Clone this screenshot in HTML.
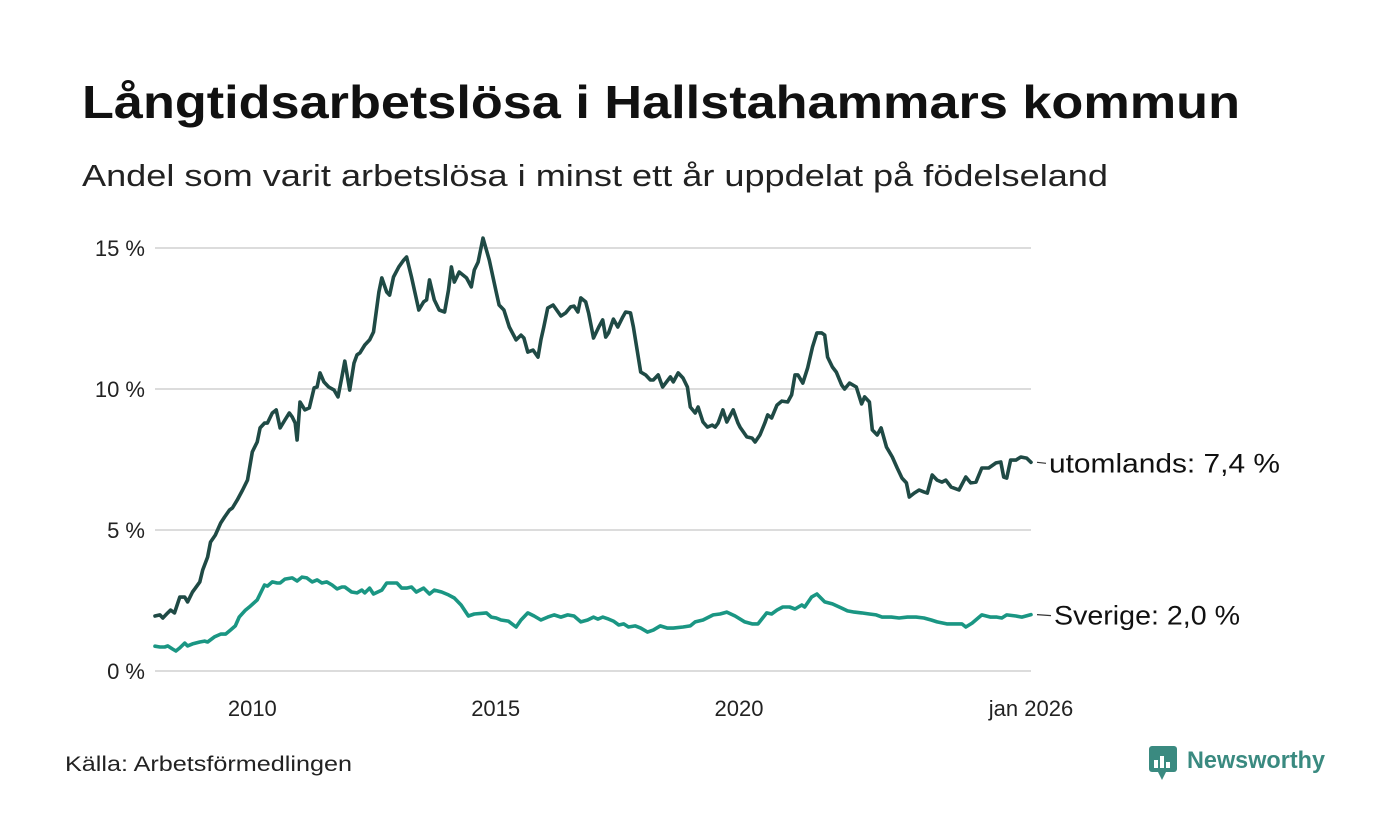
<!DOCTYPE html>
<html><head><meta charset="utf-8"><style>
html,body{margin:0;padding:0;background:#fff}
svg{display:block;font-family:"Liberation Sans","DejaVu Sans",sans-serif}
</style></head><body>
<svg id="chart" width="1400" height="840" viewBox="0 0 1400 840">
<rect width="1400" height="840" fill="#fff"/>
<text x="82" y="118" font-size="46" font-weight="bold" fill="#111" textLength="1158" lengthAdjust="spacingAndGlyphs">Långtidsarbetslösa i Hallstahammars kommun</text>
<text x="82" y="186" font-size="31" fill="#222" textLength="1026" lengthAdjust="spacingAndGlyphs">Andel som varit arbetslösa i minst ett år uppdelat på födelseland</text>
<g id="grid"></g>
<g id="yticks"></g>
<g id="xticks"></g>
<g id="lines"></g>
<text x="65" y="771" font-size="21" fill="#222" textLength="287" lengthAdjust="spacingAndGlyphs">Källa: Arbetsförmedlingen</text>
<g>
<rect x="1149" y="746" width="28" height="26" rx="3" fill="#3a8a80"/>
<polygon points="1158,772 1166,772 1162,780" fill="#3a8a80"/>
<rect x="1154" y="760" width="4" height="8" fill="#fff"/><rect x="1160" y="756" width="4" height="12" fill="#fff"/><rect x="1166" y="762" width="4" height="6" fill="#fff"/>
<text x="1187" y="768" font-size="24" font-weight="bold" fill="#3a8a80" textLength="138" lengthAdjust="spacingAndGlyphs">Newsworthy</text>
</g>
</svg>
<script>
const yTicks=[0,5,10,15];
const yTickLabels=["0 %","5 %","10 %","15 %"];
const xTicks=[2010,2015,2020,2026];
const xTickLabels=["2010","2015","2020","jan 2026"];
const utYears=[2008.0,2008.1,2008.16,2008.26,2008.32,2008.4,2008.51,2008.61,2008.67,2008.77,2008.83,2008.92,2008.98,2009.08,2009.14,2009.24,2009.35,2009.43,2009.53,2009.59,2009.69,2009.8,2009.9,2010.0,2010.1,2010.16,2010.25,2010.31,2010.41,2010.49,2010.57,2010.67,2010.76,2010.82,2010.88,2010.92,2010.98,2011.08,2011.17,2011.27,2011.33,2011.39,2011.47,2011.57,2011.68,2011.76,2011.84,2011.9,2012.0,2012.09,2012.15,2012.21,2012.31,2012.41,2012.49,2012.6,2012.66,2012.76,2012.82,2012.9,2013.01,2013.11,2013.17,2013.27,2013.42,2013.52,2013.58,2013.64,2013.74,2013.84,2013.95,2014.03,2014.09,2014.15,2014.25,2014.4,2014.5,2014.56,2014.64,2014.74,2014.87,2015.01,2015.07,2015.17,2015.28,2015.42,2015.52,2015.58,2015.66,2015.77,2015.87,2015.93,2015.99,2016.07,2016.18,2016.34,2016.44,2016.54,2016.61,2016.69,2016.75,2016.85,2016.91,2017.01,2017.12,2017.2,2017.26,2017.32,2017.42,2017.51,2017.61,2017.67,2017.77,2017.83,2017.98,2018.08,2018.18,2018.24,2018.34,2018.43,2018.59,2018.65,2018.75,2018.85,2018.94,2019.0,2019.1,2019.16,2019.26,2019.35,2019.45,2019.51,2019.57,2019.67,2019.75,2019.88,2019.98,2020.02,2020.16,2020.27,2020.33,2020.43,2020.53,2020.59,2020.67,2020.78,2020.88,2021.0,2021.08,2021.15,2021.21,2021.31,2021.41,2021.51,2021.6,2021.7,2021.76,2021.82,2021.92,2022.0,2022.11,2022.17,2022.27,2022.41,2022.52,2022.58,2022.68,2022.74,2022.84,2022.92,2023.03,2023.15,2023.25,2023.35,2023.44,2023.5,2023.6,2023.7,2023.8,2023.87,2023.97,2024.07,2024.17,2024.25,2024.36,2024.52,2024.66,2024.76,2024.87,2024.99,2025.13,2025.28,2025.38,2025.44,2025.5,2025.58,2025.69,2025.79,2025.91,2026.0];
const utVals=[1.95,1.99,1.88,2.06,2.16,2.06,2.62,2.62,2.45,2.8,2.94,3.16,3.58,4.04,4.57,4.82,5.25,5.46,5.71,5.78,6.06,6.42,6.77,7.77,8.12,8.62,8.79,8.79,9.15,9.26,8.62,8.9,9.15,9.01,8.79,8.19,9.54,9.26,9.33,10.04,10.07,10.57,10.25,10.07,9.96,9.72,10.43,10.99,9.96,10.92,11.21,11.28,11.56,11.74,12.02,13.44,13.94,13.44,13.33,13.97,14.33,14.57,14.68,13.97,12.8,13.09,13.16,13.87,13.16,12.8,12.73,13.51,14.33,13.79,14.15,13.94,13.62,14.22,14.5,15.35,14.57,13.44,12.98,12.8,12.2,11.74,11.91,11.81,11.31,11.38,11.13,11.74,12.2,12.87,12.98,12.59,12.7,12.91,12.94,12.73,13.23,13.09,12.7,11.81,12.2,12.45,11.84,11.99,12.48,12.2,12.55,12.73,12.7,12.2,10.6,10.5,10.32,10.32,10.5,10.07,10.43,10.25,10.57,10.39,10.07,9.36,9.15,9.36,8.83,8.65,8.72,8.65,8.79,9.26,8.83,9.26,8.79,8.65,8.3,8.26,8.12,8.37,8.79,9.08,8.97,9.43,9.57,9.54,9.79,10.5,10.5,10.21,10.74,11.49,11.99,11.99,11.91,11.13,10.78,10.6,10.14,10.0,10.21,10.07,9.47,9.72,9.54,8.55,8.37,8.62,7.94,7.59,7.2,6.84,6.67,6.17,6.31,6.42,6.35,6.31,6.95,6.77,6.7,6.77,6.52,6.42,6.88,6.67,6.7,7.2,7.2,7.38,7.41,6.88,6.84,7.48,7.48,7.59,7.55,7.4];
const svYears=[2008.0,2008.1,2008.2,2008.26,2008.36,2008.43,2008.51,2008.61,2008.67,2008.77,2008.92,2009.02,2009.08,2009.22,2009.35,2009.45,2009.55,2009.65,2009.73,2009.86,2009.96,2010.1,2010.25,2010.31,2010.41,2010.51,2010.57,2010.67,2010.82,2010.92,2011.02,2011.12,2011.23,2011.33,2011.43,2011.53,2011.64,2011.74,2011.84,2011.9,2012.04,2012.15,2012.25,2012.31,2012.41,2012.49,2012.66,2012.76,2012.86,2012.97,2013.07,2013.17,2013.27,2013.37,2013.52,2013.64,2013.74,2013.89,2014.03,2014.15,2014.29,2014.44,2014.56,2014.81,2014.91,2015.01,2015.11,2015.26,2015.42,2015.52,2015.66,2015.79,2015.93,2016.07,2016.2,2016.34,2016.48,2016.61,2016.75,2016.89,2017.01,2017.1,2017.2,2017.32,2017.42,2017.53,2017.63,2017.73,2017.87,2017.98,2018.12,2018.24,2018.38,2018.53,2018.65,2018.85,2019.0,2019.1,2019.26,2019.47,2019.61,2019.75,2019.92,2020.12,2020.27,2020.39,2020.57,2020.67,2020.78,2020.9,2021.04,2021.15,2021.29,2021.35,2021.49,2021.6,2021.76,2021.92,2022.11,2022.23,2022.37,2022.52,2022.68,2022.82,2022.94,2023.13,2023.29,2023.46,2023.64,2023.8,2023.95,2024.07,2024.27,2024.46,2024.58,2024.66,2024.79,2024.99,2025.17,2025.3,2025.4,2025.5,2025.69,2025.81,2026.0];
const svVals=[0.88,0.85,0.85,0.89,0.78,0.71,0.82,0.99,0.89,0.96,1.03,1.06,1.03,1.21,1.31,1.31,1.45,1.6,1.91,2.16,2.3,2.52,3.05,3.01,3.16,3.12,3.12,3.26,3.3,3.19,3.33,3.3,3.16,3.23,3.12,3.16,3.05,2.91,2.98,2.98,2.8,2.77,2.87,2.77,2.94,2.73,2.87,3.12,3.12,3.12,2.94,2.94,2.98,2.8,2.94,2.73,2.87,2.8,2.7,2.59,2.34,1.95,2.02,2.06,1.91,1.88,1.81,1.77,1.56,1.81,2.06,1.95,1.81,1.91,1.99,1.91,1.99,1.95,1.74,1.81,1.91,1.84,1.91,1.84,1.77,1.63,1.67,1.56,1.6,1.52,1.38,1.45,1.6,1.52,1.52,1.56,1.6,1.74,1.81,1.99,2.02,2.09,1.95,1.74,1.67,1.67,2.06,2.02,2.16,2.27,2.27,2.2,2.34,2.27,2.62,2.73,2.45,2.38,2.23,2.13,2.09,2.06,2.02,1.99,1.91,1.91,1.88,1.91,1.91,1.88,1.81,1.74,1.67,1.67,1.67,1.56,1.7,1.99,1.91,1.91,1.88,1.99,1.95,1.91,2.0];
const endLabels=["utomlands: 7,4 %","Sverige: 2,0 %"];

const NS='http://www.w3.org/2000/svg';
const X0=155,X1=1031,Y0=671,Y15=248;
const xS=v=>X0+(v-2008)/(2026-2008)*(X1-X0);
const yS=v=>Y0-(v/15)*(Y0-Y15);
function mk(tag,attrs,parent){const e=document.createElementNS(NS,tag);for(const k in attrs)e.setAttribute(k,attrs[k]);parent.appendChild(e);return e;}
const grid=document.getElementById('grid'),yt=document.getElementById('yticks'),xt=document.getElementById('xticks'),lines=document.getElementById('lines');
yTicks.forEach((t,i)=>{
  const l=mk('line',{x1:X0,x2:X1,y1:yS(t),y2:yS(t),stroke:'#dcdcdc','stroke-width':2},grid);
  
  
  const tx=mk('text',{x:145,y:yS(t)+8,'text-anchor':'end','font-size':22,fill:'#222'},yt);
  tx.textContent=yTickLabels[i];
  
  
});
xTicks.forEach((t,i)=>{
  const tx=mk('text',{x:xS(t),y:716,'text-anchor':'middle','font-size':22,fill:'#222'},xt);
  tx.textContent=xTickLabels[i];
  
  
});
function drawLine(xs,vs,color,name,label,lx,tl){
  const d=xs.map((x,i)=>(i?'L':'M')+xS(x).toFixed(1)+','+yS(vs[i]).toFixed(1)).join('');
  const p=mk('path',{d:d,fill:'none',stroke:color,'stroke-width':3.6,'stroke-linejoin':'round','stroke-linecap':'round'},lines);
  
  
  const ly=yS(vs[vs.length-1]);
  const c=mk('line',{x1:X1+6,x2:lx-3,y1:ly,y2:ly+1,stroke:'#333','stroke-width':1.2},lines);
  
  
  const t=mk('text',{x:lx,y:ly+10,'font-size':27,fill:'#111',textLength:tl,lengthAdjust:'spacingAndGlyphs'},lines);
  t.textContent=label;
  
  
}
drawLine(svYears,svVals,'#1a9683','sverige-line',endLabels[1],1054,186);
drawLine(utYears,utVals,'#1f4a45','utomlands-line',endLabels[0],1049,231);
</script>
</body></html>
